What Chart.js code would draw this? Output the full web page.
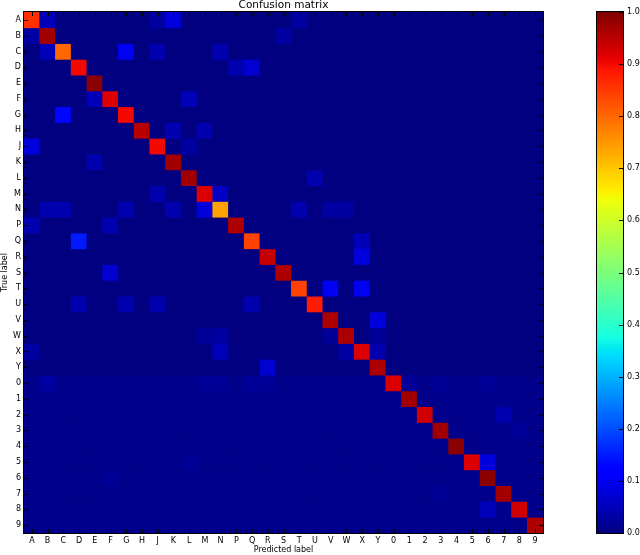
<!DOCTYPE html>
<html><head><meta charset="utf-8">
<script src="https://cdn.jsdelivr.net/npm/chart.js@4.4.0/dist/chart.umd.min.js"></script>
<style>
html,body{margin:0;padding:0;background:#fff;}
#wrap{position:relative;width:640px;height:555px;overflow:hidden;}
#main{position:absolute;left:0;top:0;}
#cbar{position:absolute;left:560px;top:0;}
</style></head><body>
<div id="wrap"><canvas id="main" width="560" height="555"></canvas><canvas id="cbar" width="80" height="555"></canvas></div>
<script>
const rowLabels = ['A','B','C','D','E','F','G','H','J','K','L','M','N','P','Q','R','S','T','U','V','W','X','Y','0','1','2','3','4','5','6','7','8','9'];
const colLabels = ['A','B','C','D','E','F','G','H','J','K','L','M','N','P','Q','R','S','T','U','V','W','X','Y','0','1','2','3','4','5','6','7','8','9'];
// diagonal (correct) rates per true label
const diagonal = [0.86,0.97,0.80,0.90,0.99,0.92,0.90,0.95,0.90,0.97,0.97,0.92,0.74,0.96,0.84,0.94,0.96,0.84,0.88,0.96,0.96,0.92,0.96,0.92,0.97,0.93,0.97,0.99,0.92,0.99,0.97,0.93,0.96];
// baseline level of each true-label row
const rowFloor = [0,0,0,0,0,0,0,0,0,0,0,0,0,0,0,0,0,0,0,0,0,0,0,0.01,0.01,0.01,0.01,0.01,0.01,0.01,0.01,0.01,0.01];
// off-diagonal confusions: [true row, predicted col, rate]
const offDiagonal = [
  [0,1,0.05],[0,8,0.03],[0,9,0.08],[0,17,0.03],
  [1,0,0.03],[1,16,0.03],
  [2,1,0.05],[2,6,0.10],[2,8,0.04],[2,12,0.04],
  [3,13,0.04],[3,14,0.07],
  [5,4,0.05],[5,10,0.05],
  [6,2,0.13],
  [7,9,0.04],[7,11,0.04],
  [8,0,0.08],[8,10,0.03],
  [9,4,0.04],
  [10,18,0.04],
  [11,8,0.04],[11,12,0.06],
  [12,1,0.04],[12,2,0.04],[12,6,0.04],[12,9,0.04],[12,11,0.08],[12,17,0.04],[12,19,0.03],[12,20,0.03],
  [13,0,0.04],[13,5,0.04],
  [14,3,0.15],[14,21,0.05],
  [15,21,0.08],
  [16,5,0.07],
  [17,19,0.10],[17,21,0.10],
  [18,3,0.04],[18,6,0.04],[18,8,0.04],[18,14,0.04],
  [19,22,0.08],
  [20,11,0.02],[20,12,0.03],[20,19,0.02],[20,22,0.02],
  [21,0,0.03],[21,12,0.05],[21,20,0.03],[21,22,0.04],
  [22,15,0.07],
  [23,1,0.03],[23,11,0.02],[23,12,0.02],[23,14,0.02],[23,15,0.02],[23,24,0.02],[23,26,0.02],[23,29,0.02],
  [25,30,0.04],
  [26,31,0.02],
  [28,10,0.02],[28,29,0.08],
  [29,5,0.02],
  [30,26,0.02],
  [31,29,0.05]
];
const colorbarTicks = [0.0,0.1,0.2,0.3,0.4,0.5,0.6,0.7,0.8,0.9,1.0];

const FONT = "'DejaVu Sans', sans-serif";
const JET = {
  r: [[0,0],[0.35,0],[0.66,1],[0.89,1],[1,0.5]],
  g: [[0,0],[0.125,0],[0.375,1],[0.64,1],[0.91,0],[1,0]],
  b: [[0,0.5],[0.11,1],[0.34,1],[0.65,0],[1,0]]
};
const JET_STOPS = [0,0.11,0.125,0.34,0.35,0.375,0.64,0.65,0.66,0.89,0.91,1];
function interp(pts, v){
  for (let i=1;i<pts.length;i++){
    if (v<=pts[i][0]){ const [x0,y0]=pts[i-1],[x1,y1]=pts[i]; return y0+(y1-y0)*(v-x0)/(x1-x0); }
  }
  return pts[pts.length-1][1];
}
function jet(v){
  v=Math.max(0,Math.min(1,v));
  return 'rgb('+Math.round(255*interp(JET.r,v))+','+Math.round(255*interp(JET.g,v))+','+Math.round(255*interp(JET.b,v))+')';
}

const matrix = rowLabels.map((_, r) => colLabels.map(() => rowFloor[r]));
diagonal.forEach((v,i) => { matrix[i][i] = v; });
offDiagonal.forEach(([r,c,v]) => { matrix[r][c] = v; });

const datasets = rowLabels.map((lab, r) => ({
  label: lab,
  data: colLabels.map(() => [r, r+1]),
  backgroundColor: matrix[r].map(jet),
  borderWidth: 0,
  barPercentage: 1,
  categoryPercentage: 1,
  grouped: false
}));

const frame = {
  id: 'frame',
  beforeDatasetsDraw(chart){
    const a = chart.chartArea, ctx = chart.ctx;
    ctx.save(); ctx.fillStyle = jet(0); ctx.fillRect(a.left, a.top, a.width, a.height); ctx.restore();
  },
  afterDatasetsDraw(chart){
    const a = chart.chartArea, ctx = chart.ctx;
    ctx.save();
    ctx.strokeStyle = '#000'; ctx.lineWidth = 1;
    ctx.beginPath();
    const xs = chart.scales.x, ys = chart.scales.y;
    xs.ticks.forEach((t,i) => {
      const px = Math.round(xs.getPixelForTick(i)) + 0.5;
      ctx.moveTo(px, a.bottom); ctx.lineTo(px, a.bottom - 4);
      ctx.moveTo(px, a.top); ctx.lineTo(px, a.top + 4);
    });
    ys.ticks.forEach((t,i) => {
      const py = Math.round(ys.getPixelForTick(i)) + 0.5;
      ctx.moveTo(a.left, py); ctx.lineTo(a.left + 4, py);
      ctx.moveTo(a.right, py); ctx.lineTo(a.right - 4, py);
    });
    ctx.stroke();
    ctx.strokeRect(Math.round(a.left) - 0.5, Math.round(a.top) - 0.5, Math.round(a.width) + 1, Math.round(a.height) + 1);
    ctx.restore();
  }
};

new Chart(document.getElementById('main'), {
  type: 'bar',
  data: { labels: colLabels, datasets },
  options: {
    responsive: false, animation: false, devicePixelRatio: 1,
    layout: { padding: { left: 0, right: 17, top: 0, bottom: 0 } },
    plugins: {
      legend: { display: false }, tooltip: { enabled: false },
      title: { display: true, fullSize: false, text: 'Confusion matrix', color: '#000',
        font: { family: FONT, size: 10.5, weight: 'normal', lineHeight: 1 }, padding: { top: 0, bottom: 1.5 } }
    },
    scales: {
      x: {
        type: 'category', offset: true,
        grid: { display: false, drawTicks: false }, border: { display: false },
        ticks: { color: '#000', font: { family: FONT, size: 8 }, padding: 3, autoSkip: false, maxRotation: 0 },
        title: { display: true, text: 'Predicted label', color: '#000', font: { family: FONT, size: 8 }, padding: 0 },
        afterFit: s => { s.height = 22; }
      },
      y: {
        type: 'linear', min: 0, max: 33, reverse: true,
        grid: { display: false, drawTicks: false }, border: { display: false },
        afterBuildTicks: s => { s.ticks = rowLabels.map((_, i) => ({ value: i + 0.5 })); },
        ticks: { color: '#000', font: { family: FONT, size: 8 }, padding: 3, autoSkip: false,
          callback: v => rowLabels[Math.floor(v)] },
        title: { display: true, text: 'True label', color: '#000', font: { family: FONT, size: 8 }, padding: 0 },
        afterFit: s => { s.width = 24; }
      }
    }
  },
  plugins: [frame]
});

const cbarFrame = {
  id: 'cbarFrame',
  afterDatasetsDraw(chart){
    const a = chart.chartArea, ctx = chart.ctx, ys = chart.scales.y;
    ctx.save();
    ctx.strokeStyle = '#000'; ctx.lineWidth = 1;
    ctx.beginPath();
    ys.ticks.forEach((t,i) => {
      const py = Math.round(ys.getPixelForTick(i)) + 0.5;
      ctx.moveTo(a.right, py); ctx.lineTo(a.right - 4, py);
    });
    ctx.stroke();
    ctx.strokeRect(Math.round(a.left) - 0.5, Math.round(a.top) - 0.5, Math.round(a.width) + 1, Math.round(a.height) + 1);
    ctx.restore();
  }
};

new Chart(document.getElementById('cbar'), {
  type: 'bar',
  data: {
    labels: [''],
    datasets: [{
      data: [[colorbarTicks[0], colorbarTicks[colorbarTicks.length - 1]]],
      backgroundColor: (c) => {
        const a = c.chart.chartArea;
        if (!a) return jet(0.5);
        const g = c.chart.ctx.createLinearGradient(0, a.bottom, 0, a.top);
        JET_STOPS.forEach(s => g.addColorStop(s, jet(s)));
        return g;
      },
      borderWidth: 0, barPercentage: 1, categoryPercentage: 1
    }]
  },
  options: {
    responsive: false, animation: false, devicePixelRatio: 1,
    layout: { padding: { left: 37, right: 0, top: 12, bottom: 22 } },
    plugins: { legend: { display: false }, tooltip: { enabled: false } },
    scales: {
      x: { display: false, offset: true },
      y: {
        position: 'right', min: 0, max: 1,
        grid: { display: false, drawTicks: false }, border: { display: false },
        afterBuildTicks: s => { s.ticks = colorbarTicks.map(v => ({ value: v })); },
        ticks: { color: '#000', font: { family: FONT, size: 8 }, padding: 4, callback: v => Number(v).toFixed(1) },
        afterFit: s => { s.width = 17; }
      }
    }
  },
  plugins: [cbarFrame]
});
</script>
</body></html>
